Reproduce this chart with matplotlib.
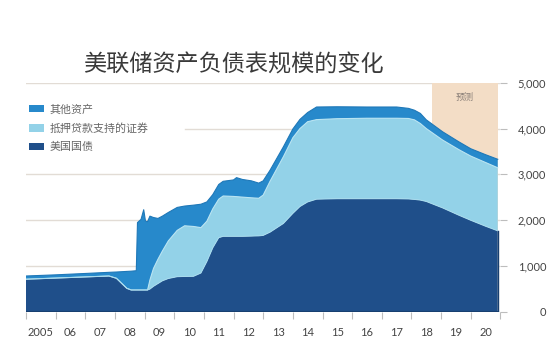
import matplotlib
matplotlib.use("Agg")
import matplotlib.pyplot as plt
from matplotlib.patches import Patch
import numpy as np

plt.rcParams['font.family'] = ['Noto Sans CJK SC', 'DejaVu Sans']

# ---- data (billions of USD) ----
years = [2005.00, 2006.00, 2007.00, 2007.80, 2008.05, 2008.40, 2008.55, 2008.72,
         2008.76, 2008.88, 2008.97, 2009.03, 2009.10, 2009.18, 2009.30, 2009.45,
         2009.60, 2009.80, 2010.10, 2010.35, 2010.65, 2010.90, 2011.10, 2011.30,
         2011.50, 2011.65, 2012.00, 2012.10, 2012.30, 2012.60, 2012.85, 2013.00,
         2013.23, 2013.68, 2014.00, 2014.24, 2014.50, 2014.80, 2015.50, 2016.50,
         2017.50, 2017.90, 2018.10, 2018.30, 2018.50, 2019.05, 2019.60, 2020.00,
         2020.50, 2020.91]
treasury = [715, 740, 765, 785, 735, 516, 480, 480,
            480, 480, 480, 480, 480, 500, 560, 620,
            680, 730, 770, 775, 778, 850, 1100, 1400,
            1620, 1650, 1650, 1650, 1650, 1655, 1660, 1670,
            1740, 1930, 2150, 2300, 2400, 2460, 2470, 2470,
            2470, 2465, 2455, 2440, 2410, 2270, 2110, 2000,
            1870, 1770]
mbs = [0, 0, 0, 0, 0, 0, 0, 0,
       0, 0, 0, 0, 0, 200, 390, 530,
       650, 820, 1010, 1105, 1087, 990, 880, 850,
       840, 880, 870, 865, 855, 835, 820, 880,
       1110, 1455, 1650, 1700, 1750, 1735, 1745, 1755,
       1755, 1755, 1735, 1670, 1590, 1480, 1430, 1400,
       1390, 1375]
other = [70, 70, 75, 80, 137, 369, 410, 420,
         1470, 1540, 1750, 1500, 1490, 1390, 1110, 890,
         760, 620, 500, 430, 465, 510, 420, 310,
         320, 320, 360, 415, 385, 370, 330, 310,
         240, 215, 190, 200, 200, 275, 260, 245,
         245, 220, 210, 220, 190, 180, 170, 160,
         170, 185]

series_names = ['美国国债', '抵押贷款支持的证券', '其他资产']
tick_years = list(range(2005, 2022))
year_labels = ['2005', '06', '07', '08', '09', '10', '11', '12', '13', '14',
               '15', '16', '17', '18', '19', '20']
y_ticks = [0, 1000, 2000, 3000, 4000, 5000]
forecast_start, forecast_end = 2018.69, 2020.91

title = '美联储资产负债表规模的变化'
forecast_label = '预测'

c_treas = '#1f4f8a'
c_mbs = '#93d2e8'
c_other = '#2789cb'
grid_c = '#e2dcd5'
tick_c = '#bdbdbd'
text_c = '#444444'

fig = plt.figure(figsize=(5.5, 3.52), dpi=100)
ax = fig.add_axes([26/550, 1-312/352, (500.4-26)/550, (312-82.7)/352])
ax.set_xlim(2005, 2021)
ax.set_ylim(0, 5000)

# gridlines
for v in y_ticks[1:]:
    if v == 4000:
        ax.axhline(v, xmin=0.335, color=grid_c, lw=1, zorder=0)
    else:
        ax.axhline(v, color=grid_c, lw=1, zorder=0)

ax.axvspan(forecast_start, forecast_end, color='#f3ddc6', lw=0, zorder=0.5)
ax.text((forecast_start+forecast_end)/2, 4680, forecast_label, ha='center', va='center',
        fontsize=6.5, color='#8a7f78', zorder=1)

yrs = np.array(years)
t = np.array(treasury)
m = np.array(mbs)
o = np.array(other)
ax.stackplot(yrs, t, m, o, colors=[c_treas, c_mbs, c_other], lw=0, zorder=2)
ax.plot(yrs, t + m + o, color='#1f78b8', lw=0.8, zorder=3)
ax.plot(yrs, t + m, color='#b9e4f2', lw=0.8, zorder=3)
ax.plot(yrs, t, color='#a9dcee', lw=0.7, zorder=3)
ax.plot([yrs[0], yrs[-1]], [0, 0], color='#173f70', lw=1.5, zorder=3)
ax.plot([yrs[-1], yrs[-1]], [0, t[-1]], color='#173f70', lw=1.0, zorder=3)

for s in ax.spines.values():
    s.set_visible(False)

# x axis
ax.set_xticks(tick_years)
ax.set_xticklabels([])
ax.set_xticks([y + 0.5 for y in tick_years[:-1]], minor=True)
ax.set_xticklabels(year_labels, minor=True, family='Lato', fontsize=8, color=text_c)
ax.tick_params(axis='x', which='major', length=5, width=0.8, color=tick_c, direction='out', pad=2)
ax.tick_params(axis='x', which='minor', length=0, pad=11)

# y axis on right
ax.yaxis.tick_right()
ax.set_yticks(y_ticks)
ax.set_yticklabels([f'{v:,}' for v in y_ticks], family='Lato', fontsize=8, color=text_c)
for lab in ax.get_yticklabels():
    lab.set_horizontalalignment('right')
ax.tick_params(axis='y', length=5, width=0.8, color=tick_c, pad=28)

# legend
handles = [Patch(facecolor=c_other), Patch(facecolor=c_mbs), Patch(facecolor=c_treas)]
leg = ax.legend(handles, [series_names[2], series_names[1], series_names[0]],
                loc='upper left', bbox_to_anchor=(29/550, 1-104/352),
                bbox_transform=fig.transFigure, frameon=False, fontsize=7.9,
                handlelength=1.4, handleheight=0.7, labelspacing=0.78,
                handletextpad=0.5, borderpad=0, borderaxespad=0)
for txt in leg.get_texts():
    txt.set_color('#666666')

fig.text(233/550, 1-65/352, title, ha='center', va='center', fontsize=16.7,
         color='#3a3a3a', fontweight='light')

fig.savefig('out.png', dpi=100)
